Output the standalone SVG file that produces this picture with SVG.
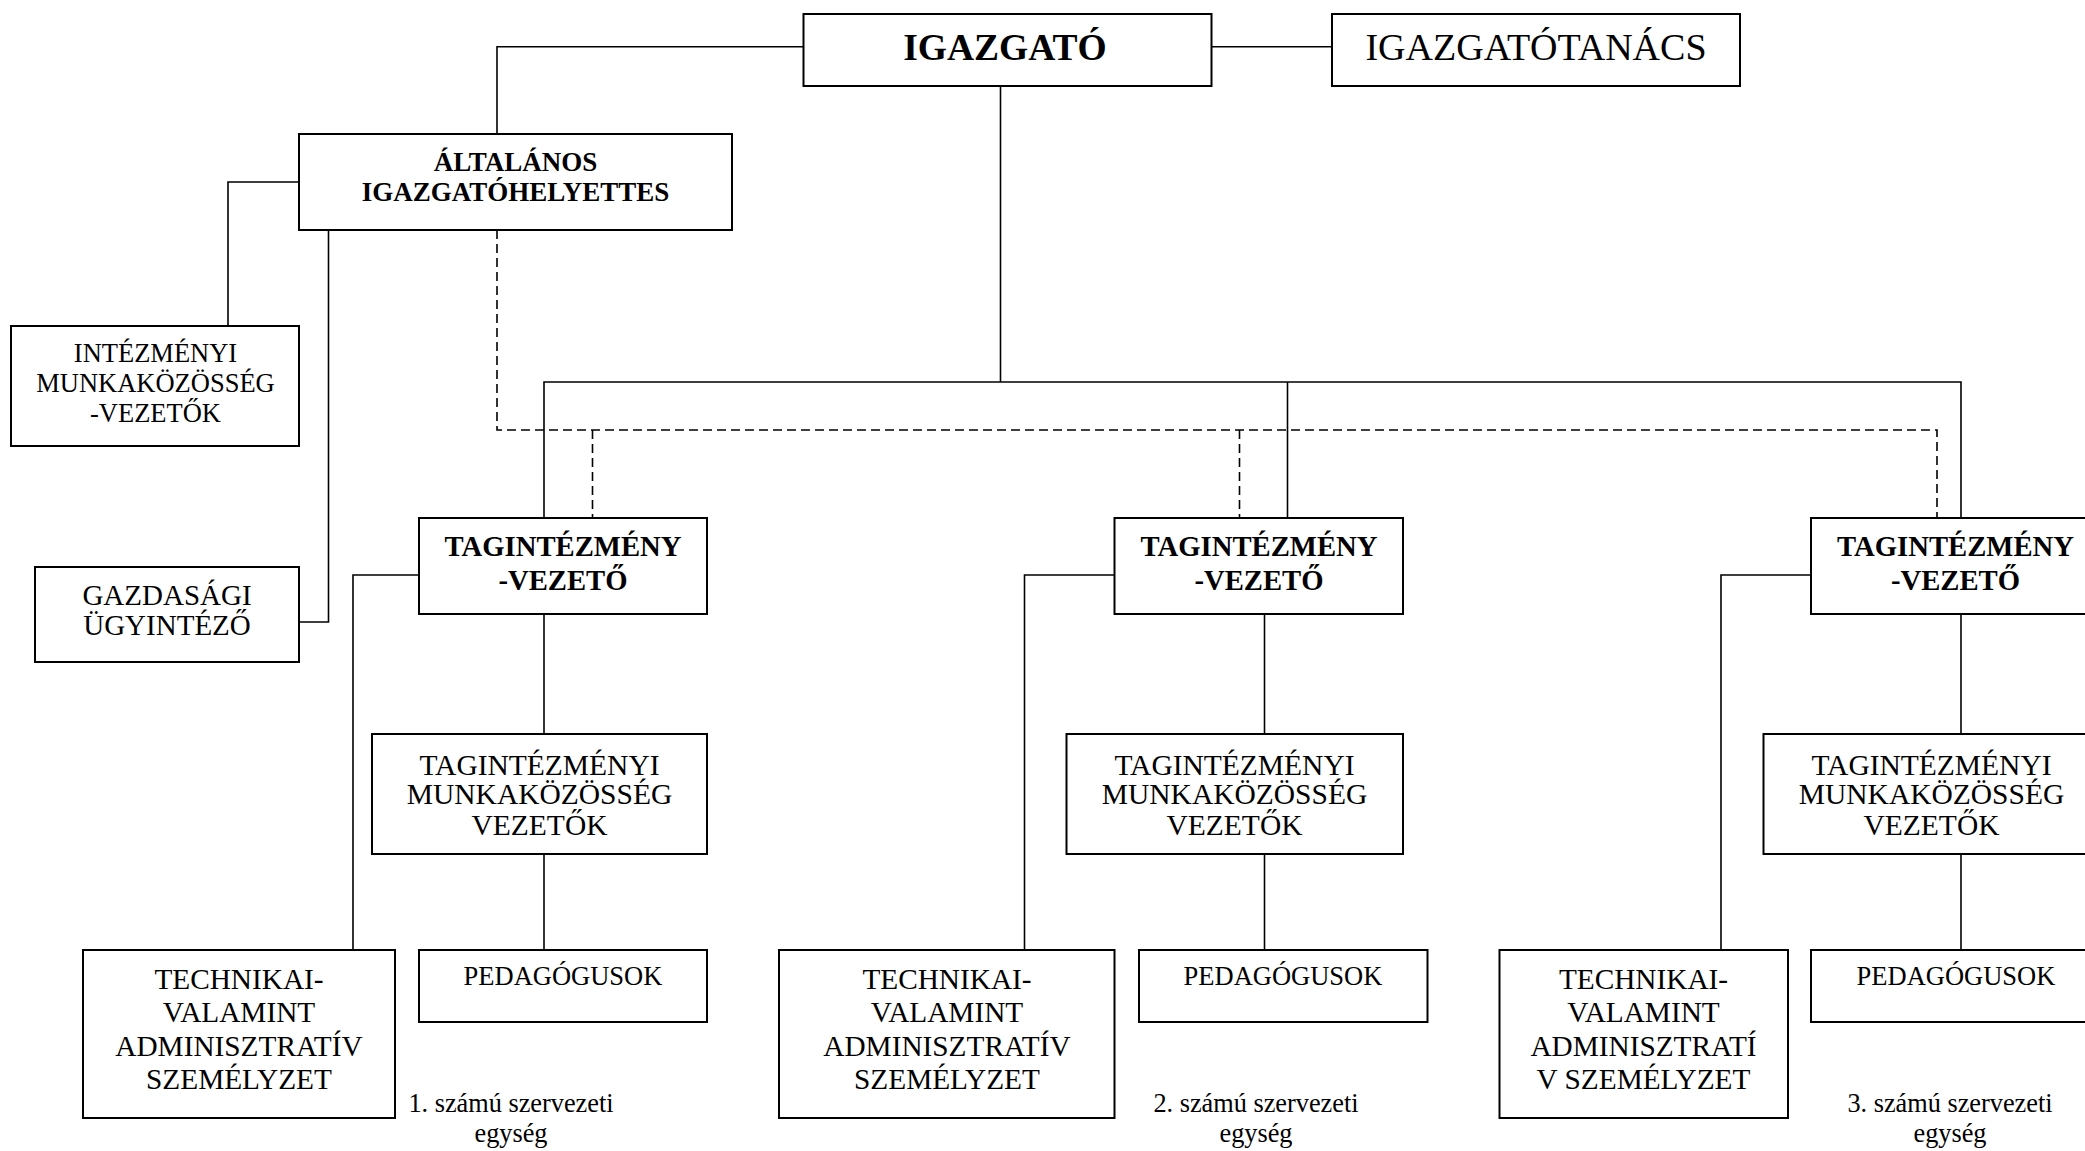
<svg xmlns="http://www.w3.org/2000/svg" width="2085" height="1151" viewBox="0 0 2085 1151">
<style>
  .box { fill: #ffffff; stroke: #000000; stroke-width: 2; }
  .ln { fill: none; stroke: #000000; stroke-width: 1.6; }
  .dash { fill: none; stroke: #000000; stroke-width: 1.6; stroke-dasharray: 9 5; }
  text { font-family: "Liberation Serif", "Times New Roman", serif; fill: #000000; text-anchor: middle; }
  .b36 { font-size: 37.5px; font-weight: bold; }
  .r37 { font-size: 38px; }
  .b26 { font-size: 27px; font-weight: bold; }
  .b28 { font-size: 28.7px; font-weight: bold; }
  .r27 { font-size: 26.5px; }
  .rmk { font-size: 29.5px; }
  .r29 { font-size: 29px; }
  .r28 { font-size: 29.3px; }
  .r26 { font-size: 26.5px; }
  .r26s { font-size: 26.3px; }
</style>
<rect width="2085" height="1151" fill="#ffffff"/>
<g id="connectors">
  <polyline class="ln" points="803,46.7 497,46.7 497,134"/>
  <line class="ln" x1="1211" y1="46.7" x2="1332" y2="46.7"/>
  <line class="ln" x1="1000.5" y1="86" x2="1000.5" y2="382"/>
  <polyline class="ln" points="544,518 544,382 1961,382 1961,518"/>
  <line class="ln" x1="1287.5" y1="382" x2="1287.5" y2="518"/>
  <polyline class="ln" points="299,182 228,182 228,326"/>
  <polyline class="ln" points="328.5,230 328.5,622 299,622"/>
  <polyline class="dash" points="497,230 497,430 1937,430 1937,518"/>
  <line class="dash" x1="592.5" y1="430" x2="592.5" y2="518"/>
  <line class="dash" x1="1239.5" y1="430" x2="1239.5" y2="518"/>
  <polyline class="ln" points="419,575 353,575 353,950"/>
  <line class="ln" x1="544" y1="614" x2="544" y2="734"/>
  <line class="ln" x1="544" y1="854" x2="544" y2="950"/>
  <polyline class="ln" points="1114.5,575 1024.5,575 1024.5,950"/>
  <line class="ln" x1="1264.5" y1="614" x2="1264.5" y2="734"/>
  <line class="ln" x1="1264.5" y1="854" x2="1264.5" y2="950"/>
  <polyline class="ln" points="1811,575 1721,575 1721,950"/>
  <line class="ln" x1="1961" y1="614" x2="1961" y2="734"/>
  <line class="ln" x1="1961" y1="854" x2="1961" y2="950"/>
</g>
<g id="igazgato">
  <rect class="box" x="803.5" y="14" width="408" height="72"/>
  <text class="b36" x="1005" y="60">IGAZGATÓ</text>
</g>
<g id="igazgatotanacs">
  <rect class="box" x="1332" y="14" width="408" height="72"/>
  <text class="r37" x="1536" y="60">IGAZGATÓTANÁCS</text>
</g>
<g id="altalanos">
  <rect class="box" x="299" y="134" width="433" height="96"/>
  <text class="b26" x="515.5" y="170.5">ÁLTALÁNOS</text>
  <text class="b26" x="515.5" y="200.5">IGAZGATÓHELYETTES</text>
</g>
<g id="intezmenyi">
  <rect class="box" x="11" y="326" width="288" height="120"/>
  <text class="r27" x="155.5" y="361.5">INTÉZMÉNYI</text>
  <text class="r27" x="155.5" y="391.5">MUNKAKÖZÖSSÉG</text>
  <text class="r27" x="155.5" y="421.5">-VEZETŐK</text>
</g>
<g id="gazdasagi">
  <rect class="box" x="35" y="567" width="264" height="95"/>
  <text class="r29" x="167" y="605">GAZDASÁGI</text>
  <text class="r29" x="167" y="635">ÜGYINTÉZŐ</text>
</g>
<g id="tag1">
  <rect class="box" x="419" y="518" width="288" height="96"/>
  <text class="b28" x="563" y="556">TAGINTÉZMÉNY</text>
  <text class="b28" x="563" y="590">-VEZETŐ</text>
</g>
<g id="tag2">
  <rect class="box" x="1114.5" y="518" width="288.5" height="96"/>
  <text class="b28" x="1259" y="556">TAGINTÉZMÉNY</text>
  <text class="b28" x="1259" y="590">-VEZETŐ</text>
</g>
<g id="tag3">
  <rect class="box" x="1811" y="518" width="290" height="96"/>
  <text class="b28" x="1955.5" y="556">TAGINTÉZMÉNY</text>
  <text class="b28" x="1955.5" y="590">-VEZETŐ</text>
</g>
<g id="mk1">
  <rect class="box" x="372" y="734" width="335" height="120"/>
  <text class="rmk" x="539.5" y="775">TAGINTÉZMÉNYI</text>
  <text class="rmk" x="539.5" y="804">MUNKAKÖZÖSSÉG</text>
  <text class="rmk" x="539.5" y="835">VEZETŐK</text>
</g>
<g id="mk2">
  <rect class="box" x="1066.5" y="734" width="336.5" height="120"/>
  <text class="rmk" x="1234.5" y="775">TAGINTÉZMÉNYI</text>
  <text class="rmk" x="1234.5" y="804">MUNKAKÖZÖSSÉG</text>
  <text class="rmk" x="1234.5" y="835">VEZETŐK</text>
</g>
<g id="mk3">
  <rect class="box" x="1763.5" y="734" width="336" height="120"/>
  <text class="rmk" x="1931.5" y="775">TAGINTÉZMÉNYI</text>
  <text class="rmk" x="1931.5" y="804">MUNKAKÖZÖSSÉG</text>
  <text class="rmk" x="1931.5" y="835">VEZETŐK</text>
</g>
<g id="tech1">
  <rect class="box" x="83" y="950" width="312" height="168"/>
  <text class="r28" x="239" y="989">TECHNIKAI-</text>
  <text class="r28" x="239" y="1022">VALAMINT</text>
  <text class="r28" x="239" y="1056">ADMINISZTRATÍV</text>
  <text class="r28" x="239" y="1089">SZEMÉLYZET</text>
</g>
<g id="ped1">
  <rect class="box" x="419" y="950" width="288" height="72"/>
  <text class="r26" x="563" y="985">PEDAGÓGUSOK</text>
</g>
<g id="tech2">
  <rect class="box" x="779" y="950" width="335.5" height="168"/>
  <text class="r28" x="947" y="989">TECHNIKAI-</text>
  <text class="r28" x="947" y="1022">VALAMINT</text>
  <text class="r28" x="947" y="1056">ADMINISZTRATÍV</text>
  <text class="r28" x="947" y="1089">SZEMÉLYZET</text>
</g>
<g id="ped2">
  <rect class="box" x="1139" y="950" width="288.5" height="72"/>
  <text class="r26" x="1283" y="985">PEDAGÓGUSOK</text>
</g>
<g id="tech3">
  <rect class="box" x="1499.5" y="950" width="288.5" height="168"/>
  <text class="r28" x="1643.5" y="989">TECHNIKAI-</text>
  <text class="r28" x="1643.5" y="1022">VALAMINT</text>
  <text class="r28" x="1643.5" y="1056">ADMINISZTRATÍ</text>
  <text class="r28" x="1643.5" y="1089">V SZEMÉLYZET</text>
</g>
<g id="ped3">
  <rect class="box" x="1811" y="950" width="290" height="72"/>
  <text class="r26" x="1956" y="985">PEDAGÓGUSOK</text>
</g>
<g id="labels">
  <text class="r26s" x="511" y="1112">1. számú szervezeti</text>
  <text class="r26s" x="511" y="1142">egység</text>
  <text class="r26s" x="1256" y="1112">2. számú szervezeti</text>
  <text class="r26s" x="1256" y="1142">egység</text>
  <text class="r26s" x="1950" y="1112">3. számú szervezeti</text>
  <text class="r26s" x="1950" y="1142">egység</text>
</g>
</svg>
